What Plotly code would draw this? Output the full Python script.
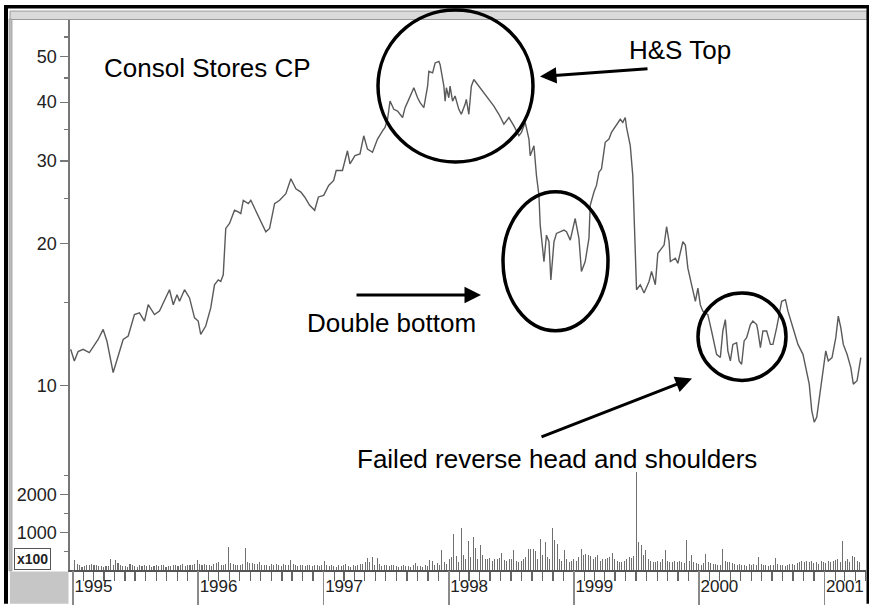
import math
import pandas as pd
import plotly.graph_objects as go

# ---------------- data ----------------
# price: (decimal year, price)
price_1995_1997 = [
    (1994.98, 11.93), (1995.01, 11.27), (1995.04, 11.80), (1995.08, 11.93), (1995.13, 11.74),
    (1995.20, 12.52), (1995.24, 13.15), (1995.27, 12.43), (1995.32, 10.65), (1995.36, 11.55),
    (1995.40, 12.52), (1995.44, 12.73), (1995.49, 14.14), (1995.53, 14.26), (1995.57, 13.70),
    (1995.60, 14.84), (1995.65, 14.14), (1995.69, 14.38), (1995.75, 15.47), (1995.77, 15.97),
    (1995.80, 14.84), (1995.83, 15.58), (1995.85, 15.09), (1995.89, 15.97), (1995.93, 15.34),
    (1995.97, 13.92), (1996.00, 13.70), (1996.02, 12.83), (1996.06, 13.37), (1996.10, 14.61),
    (1996.13, 16.36), (1996.16, 16.76), (1996.18, 16.63), (1996.20, 17.18), (1996.21, 19.24),
    (1996.22, 21.56), (1996.25, 22.09), (1996.29, 23.56), (1996.32, 23.38), (1996.34, 23.18),
    (1996.36, 24.74), (1996.40, 24.34), (1996.42, 24.74), (1996.46, 23.56), (1996.50, 22.27),
    (1996.54, 21.21), (1996.57, 21.56), (1996.61, 24.34), (1996.65, 24.74), (1996.68, 25.15),
    (1996.70, 25.55), (1996.74, 27.49), (1996.78, 26.18), (1996.82, 25.76), (1996.85, 25.15),
    (1996.89, 24.14), (1996.93, 23.56), (1996.96, 25.15), (1997.00, 25.34), (1997.04, 26.61),
    (1997.08, 27.27), (1997.10, 28.62),
]
price_1997_1999 = [
    (1997.15, 28.62), (1997.19, 31.53), (1997.21, 29.57), (1997.25, 30.78), (1997.29, 31.04),
    (1997.32, 33.93), (1997.35, 31.79), (1997.39, 31.30), (1997.43, 33.39), (1997.47, 34.76),
    (1997.49, 35.33), (1997.51, 36.79), (1997.53, 40.21), (1997.56, 38.62), (1997.59, 38.30),
    (1997.63, 37.10), (1997.65, 38.94), (1997.68, 40.55), (1997.72, 42.92), (1997.75, 40.88),
    (1997.77, 39.90), (1997.80, 38.94), (1997.83, 43.25), (1997.84, 46.53), (1997.87, 46.17),
    (1997.89, 48.46), (1997.92, 48.84), (1997.93, 48.06), (1997.96, 43.25), (1997.97, 40.21),
    (1997.98, 42.92), (1998.00, 40.88), (1998.01, 43.25), (1998.03, 40.21), (1998.05, 41.21),
    (1998.08, 38.62), (1998.10, 37.69), (1998.13, 39.57), (1998.14, 40.55), (1998.16, 37.69),
    (1998.18, 43.25), (1998.20, 44.69), (1998.24, 43.25), (1998.28, 41.89), (1998.32, 40.55),
    (1998.36, 39.25), (1998.40, 37.69), (1998.44, 35.91), (1998.48, 37.10), (1998.52, 35.62),
    (1998.56, 33.93), (1998.58, 34.50), (1998.61, 36.22), (1998.64, 33.39), (1998.65, 30.78),
    (1998.68, 32.32), (1998.70, 27.93), (1998.72, 25.34), (1998.73, 21.91), (1998.76, 18.33),
    (1998.78, 20.86), (1998.80, 20.20), (1998.815, 16.76), (1998.825, 18.03), (1998.84, 20.20),
    (1998.86, 21.04), (1998.89, 21.21), (1998.92, 21.38), (1998.94, 21.21), (1998.97, 20.36),
    (1999.01, 22.63), (1999.04, 20.53), (1999.06, 17.47), (1999.09, 18.33), (1999.12, 20.53),
    (1999.13, 24.14), (1999.16, 25.76), (1999.18, 26.61), (1999.20, 28.39),
]
price_1999_2001 = [
    (1999.22, 28.85), (1999.25, 32.86), (1999.28, 33.39), (1999.30, 34.50), (1999.34, 35.91),
    (1999.37, 36.79), (1999.39, 36.22), (1999.41, 37.10), (1999.42, 35.33), (1999.45, 32.32),
    (1999.47, 27.93), (1999.48, 23.00), (1999.49, 18.63), (1999.50, 15.97), (1999.53, 16.36),
    (1999.56, 15.71), (1999.60, 16.63), (1999.62, 17.47), (1999.65, 16.36), (1999.67, 19.09),
    (1999.70, 19.56), (1999.72, 19.87), (1999.74, 21.74), (1999.76, 20.20), (1999.77, 18.33),
    (1999.81, 18.63), (1999.83, 18.18), (1999.87, 20.20), (1999.89, 19.87), (1999.91, 17.75),
    (1999.94, 16.36), (1999.97, 15.09), (1999.99, 16.10), (2000.01, 14.84), (2000.03, 14.38),
    (2000.07, 14.14), (2000.10, 13.05), (2000.14, 11.64), (2000.17, 11.46), (2000.19, 13.05),
    (2000.21, 13.80), (2000.23, 11.84), (2000.25, 11.27), (2000.27, 12.22), (2000.30, 12.32),
    (2000.32, 11.27), (2000.34, 11.09), (2000.36, 12.43), (2000.38, 12.63), (2000.41, 13.47),
    (2000.43, 13.70), (2000.46, 13.47), (2000.47, 13.05), (2000.49, 12.03), (2000.51, 13.05),
    (2000.54, 13.05), (2000.57, 12.22), (2000.59, 12.22), (2000.62, 13.26), (2000.66, 15.09),
    (2000.69, 15.21), (2000.71, 14.38), (2000.75, 13.26), (2000.79, 12.22), (2000.83, 11.64),
    (2000.85, 10.91), (2000.88, 10.06), (2000.90, 8.84), (2000.92, 8.35), (2000.94, 8.56),
    (2000.96, 9.43), (2000.99, 10.74), (2001.01, 11.84), (2001.03, 11.27), (2001.06, 11.46),
    (2001.09, 12.63), (2001.11, 14.03), (2001.13, 13.26), (2001.15, 12.22), (2001.18, 11.64),
    (2001.21, 10.91), (2001.23, 10.06), (2001.26, 10.23), (2001.29, 11.46),
]

# weekly volume (x100), one list per year
vol_1995 = [260,150,120,90,110,130,140,150,140,120,110,100,90,110,100,300,140,260,180,120,
            100,110,90,150,130,110,90,120,100,140,110,120,90,100,130,110,120,140,90,100,
            110,130,120,110,140,150,100,130,140,120,160,260]
vol_1996 = [150,130,160,120,140,110,150,180,210,140,120,160,600,180,150,130,120,140,160,570,
            200,190,180,170,150,200,130,120,140,110,150,120,170,130,110,150,140,120,260,150,
            130,110,140,120,100,130,120,110,140,120,100,130]
vol_1997 = [230,120,100,140,110,90,120,100,130,150,110,90,120,100,140,160,150,200,330,200,
            340,120,330,150,110,130,120,100,140,120,110,90,100,130,110,100,90,120,180,110,
            100,90,120,110,270,240,130,180,140,530,200,150]
vol_1998 = [300,350,950,380,200,1120,400,300,770,350,880,580,300,660,400,280,300,320,250,300,
            280,320,450,260,240,300,280,530,250,200,240,300,350,550,560,550,500,300,830,400,
            740,350,300,1120,800,680,300,250,530,280,200,250]
vol_1999 = [300,250,350,550,400,420,400,380,300,350,400,250,300,280,320,350,440,300,250,220,
            200,230,300,350,320,380,2600,730,650,400,530,300,250,200,220,250,200,300,530,250,
            220,200,230,210,250,200,180,800,250,400,200,180]
vol_2000 = [150,120,180,420,200,180,160,150,130,140,550,250,200,220,180,150,140,160,120,130,
            110,150,140,160,120,350,150,130,120,100,140,130,320,150,120,140,110,130,150,160,
            140,180,220,240,200,230,210,250,180,200,170,230]
vol_2001 = [200,180,250,220,230,260,300,200,780,250,300,200,370,340,250,200]

price_ticks = [10, 20, 30, 40, 50]
price_minor = [15, 25, 35, 45, 55]
vol_ticks = [1000, 2000]
vol_minor = [500, 1500, 2500]
years = [1995, 1996, 1997, 1998, 1999, 2000, 2001]
title = "Consol Stores CP"

# ---------------- build ----------------
def dec_to_date(d):
    y = int(math.floor(d))
    return pd.Timestamp(year=y, month=1, day=1) + pd.Timedelta(days=(d - y) * 365.25)

price_pts = price_1995_1997 + price_1997_1999 + price_1999_2001
p_dates = [dec_to_date(t) for t, _ in price_pts]
p_vals = [v for _, v in price_pts]

volume = vol_1995 + vol_1996 + vol_1997 + vol_1998 + vol_1999 + vol_2000 + vol_2001
v_dates = pd.date_range("1995-01-06", periods=len(volume), freq="7D")

year_dates = [pd.Timestamp(year=y, month=1, day=1) for y in years]
x_range = [pd.Timestamp("1994-12-23"), pd.Timestamp("2001-05-02")]

W, H = 870, 608
ML, MR, MT, MB = 70, 4, 20, 34
PW, PH = W - ML - MR, H - MT - MB

def fx(px):
    return (px - ML) / PW

def fy(py):
    return (H - MB - py) / PH

FONT = "Liberation Sans, Arial, sans-serif"

fig = go.Figure()
fig.add_trace(go.Scatter(x=p_dates, y=p_vals, mode="lines",
                         line=dict(color="#5a5a5a", width=1.4),
                         xaxis="x", yaxis="y", showlegend=False, hoverinfo="skip"))
fig.add_trace(go.Bar(x=v_dates, y=volume, width=3 * 86400000,
                     marker=dict(color="#707070", line=dict(width=0)),
                     xaxis="x2", yaxis="y2", showlegend=False, hoverinfo="skip"))
fig.add_trace(go.Scatter(x=[x_range[0]], y=[0], mode="markers", marker=dict(opacity=0),
                         xaxis="x3", yaxis="y2", showlegend=False, hoverinfo="skip"))

vol_top = 3263
price_range = [0.8692, 1.7767]
split = fy(450)

fig.update_layout(
    width=W, height=H, autosize=False,
    margin=dict(l=ML, r=MR, t=MT, b=MB),
    paper_bgcolor="white", plot_bgcolor="white",
    bargap=0,
    font=dict(family=FONT, color="#222"),
    xaxis=dict(type="date", range=x_range, domain=[0, 1], anchor="y", matches="x2",
               visible=False, showgrid=False),
    yaxis=dict(type="log", range=price_range, domain=[split, 1], anchor="x",
               tickmode="array", tickvals=price_ticks, ticktext=[str(v) for v in price_ticks],
               ticks="outside", ticklen=8, tickwidth=1.3, tickcolor="#777",
               minor=dict(tickvals=price_minor, ticks="outside", ticklen=4, tickcolor="#777",
                          tickwidth=1.2, showgrid=False),
               showline=True, linecolor="#777", linewidth=1.6, showgrid=False, zeroline=False,
               tickfont=dict(size=18, color="#222", family=FONT)),
    xaxis2=dict(type="date", range=x_range, domain=[0, 1], anchor="y2",
                tickmode="array", tickvals=year_dates, ticktext=[str(y) for y in years],
                ticks="outside", ticklen=10, tickwidth=1.3, tickcolor="#777",
                ticklabelposition="outside right",
                minor=dict(dtick="M1", tick0="1995-01-01", ticks="outside", ticklen=9,
                           tickwidth=1.3, tickcolor="#666", showgrid=False),
                showline=True, linecolor="#555", linewidth=1.6, showgrid=False, zeroline=False,
                tickfont=dict(size=17, color="#222", family=FONT)),
    xaxis3=dict(type="date", range=x_range, overlaying="x2", anchor="y2", side="bottom",
                tickmode="array", tickvals=year_dates, showticklabels=False,
                ticks="outside", ticklen=34, tickwidth=1.6, tickcolor="#8a8a8a",
                showline=False, showgrid=False, zeroline=False),
    yaxis2=dict(range=[0, vol_top], domain=[0, split], anchor="x2",
                tickmode="array", tickvals=vol_ticks, ticktext=[str(v) for v in vol_ticks],
                ticks="outside", ticklen=8, tickwidth=1.3, tickcolor="#777",
                minor=dict(tickvals=vol_minor, ticks="outside", ticklen=4, tickcolor="#777",
                           tickwidth=1.2, showgrid=False),
                showline=True, linecolor="#777", linewidth=1.6, showgrid=False, zeroline=False,
                tickfont=dict(size=18, color="#222", family=FONT)),
)

# frame decorations
def rect(x0, y0, x1, y1, fill, line_color=None, lw=0, layer="above"):
    return dict(type="rect", xref="paper", yref="paper",
                x0=fx(x0), x1=fx(x1), y0=fy(y1), y1=fy(y0),
                fillcolor=fill, line=dict(color=line_color or fill, width=lw), layer=layer)

shapes = [
    rect(10, 11, 867, 19.5, "#dadada", "#9a9a9a", 1),
    rect(9, 19, 12, 575, "#bdbdbd", "#9a9a9a", 0.8),
    rect(10, 575.5, 68.5, 608, "#c6c6c6"),
    rect(4, 5, 8, 608, "black"),
    rect(4, 5, 869, 8.5, "black"),
    rect(866.5, 5, 869, 608, "black"),
]

def ellipse(cx, cy, rx, ry):
    return dict(type="circle", xref="paper", yref="paper",
                x0=fx(cx - rx), x1=fx(cx + rx), y0=fy(cy + ry), y1=fy(cy - ry),
                line=dict(color="black", width=3.5), layer="above")

shapes += [ellipse(455.5, 86.5, 77.5, 76.5),
           ellipse(555.5, 263, 52.5, 70),
           ellipse(742, 339, 44, 44)]
fig.update_layout(shapes=shapes)

def label(text, x, y, size=26):
    return dict(text=text, x=fx(x), y=fy(y), xref="paper", yref="paper",
                xanchor="left", yanchor="middle", showarrow=False,
                font=dict(size=size, color="black", family=FONT))

def arrow(hx, hy, tx, ty):
    return dict(text="", x=fx(hx), y=fy(hy), xref="paper", yref="paper",
                ax=tx - hx, ay=ty - hy, axref="pixel", ayref="pixel",
                showarrow=True, arrowhead=2, arrowsize=1.1, arrowwidth=3,
                arrowcolor="black", standoff=0, startstandoff=0)

annotations = [
    label(title, 102, 68),
    label("H&S Top", 627, 50),
    label("Double bottom", 305, 325),
    label("Failed reverse head and shoulders", 355, 462),
    arrow(540, 77, 649, 69),
    arrow(481, 297, 355, 297),
    arrow(692, 381, 540, 440),
    dict(text="<b>x100</b>", x=fx(32.5), y=fy(563), xref="paper", yref="paper",
         xanchor="center", yanchor="middle", showarrow=False,
         font=dict(size=14, color="#222", family=FONT),
         bordercolor="#555", borderwidth=1, borderpad=2, bgcolor="white"),
]
fig.update_layout(annotations=annotations)

fig.write_html("out.html",
               config={"displayModeBar": False, "staticPlot": True},
               post_script="document.body.style.margin='0';document.body.style.overflow='hidden';")
